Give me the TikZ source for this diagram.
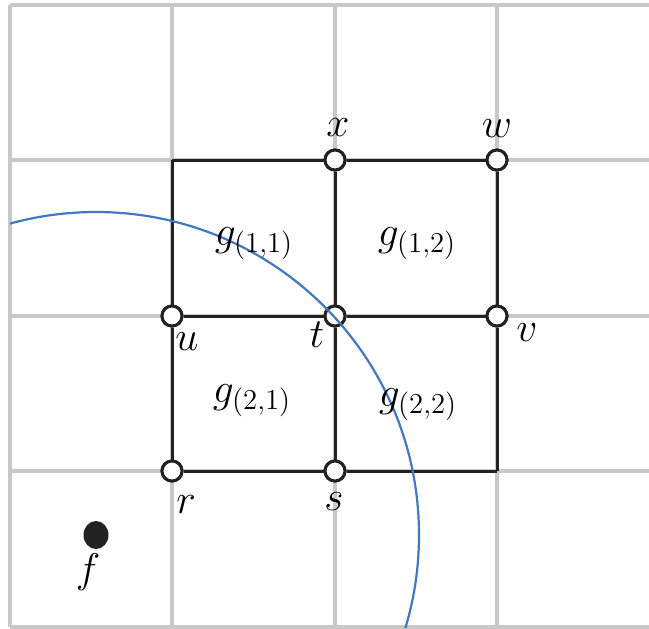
\documentclass[tikz,border=0pt]{standalone}
\usepackage{amsmath,amssymb}
\usepackage{tikz}
\usetikzlibrary{shapes.geometric}
\usepackage{xcolor}
\definecolor{GridGray}{HTML}{C8C8C8}
\definecolor{Ink}{HTML}{222222}
\definecolor{ArcBlue}{HTML}{4178C0}

\begin{document}
\begin{tikzpicture}[
  x=0.5pt,y=-0.5pt,
  gridline/.style={draw=GridGray,line width=2pt},
  edge/.style={draw=Ink,line width=1.5pt},
  vtx/.style={circle,draw=Ink,line width=1.5pt,fill=white,inner sep=0pt,minimum size=10pt},
  src/.style={ellipse,fill=Ink,inner sep=0pt,minimum width=12.5pt,minimum height=14pt},
  lbl/.style={inner sep=0pt,font=\huge},
  arc/.style={draw=ArcBlue,line width=1.1pt}
]
\useasboundingbox (0,0) rectangle (649,628);

% background grid
\foreach \gx in {10,172,335,497}
  \draw[gridline] (\gx,5) -- (\gx,627);
\foreach \gy in {5,160,316,471,627}
  \draw[gridline] (10,\gy) -- (649,\gy);

% grid points
\coordinate (c11) at (172,160);
\coordinate (c33) at (497,471);
\node[vtx] (x) at (335,160) {};
\node[vtx] (w) at (497,160) {};
\node[vtx] (u) at (172,316) {};
\node[vtx] (t) at (335,316) {};
\node[vtx] (v) at (497,316) {};
\node[vtx] (r) at (172,471) {};
\node[vtx] (s) at (335,471) {};
\node[src] (f) at (96,535) {};

% cells
\draw[edge] (c11) -- (x);
\draw[edge] (x) -- (w);
\draw[edge] (u) -- (t);
\draw[edge] (t) -- (v);
\draw[edge] (r) -- (s);
\draw[edge] (s) -- (c33);
\draw[edge] (c11) -- (u);
\draw[edge] (u) -- (r);
\draw[edge] (x) -- (t);
\draw[edge] (t) -- (s);
\draw[edge] (w) -- (v);
\draw[edge] (v) -- (c33);

% redraw vertices on top of the edges
\foreach \p in {x,w,u,t,v,r,s}
  \node[vtx] at (\p) {};

% range of f
\begin{scope}
\clip (10,5) rectangle (649,627);
\draw[arc] (f) circle[radius=161.5pt];
\end{scope}

% labels
\node[lbl] (lx) at (338,128) {$x$};
\node[lbl] (lw) at (497,129) {$w$};
\node[lbl] (lu) at (187,342) {$u$};
\node[lbl] (lt) at (317,335) {$t$};
\node[lbl] (lv) at (527,333) {$v$};
\node[lbl] (lr) at (186,505) {$r$};
\node[lbl] (ls) at (334,502) {$s$};
\node[lbl] (lf) at (88,572) {$f$};
\node[lbl] (g11) at (254,244) {$g_{(1,1)}$};
\node[lbl] (g12) at (417,244) {$g_{(1,2)}$};
\node[lbl] (g21) at (252,401) {$g_{(2,1)}$};
\node[lbl] (g22) at (418,405) {$g_{(2,2)}$};
\end{tikzpicture}
\end{document}
